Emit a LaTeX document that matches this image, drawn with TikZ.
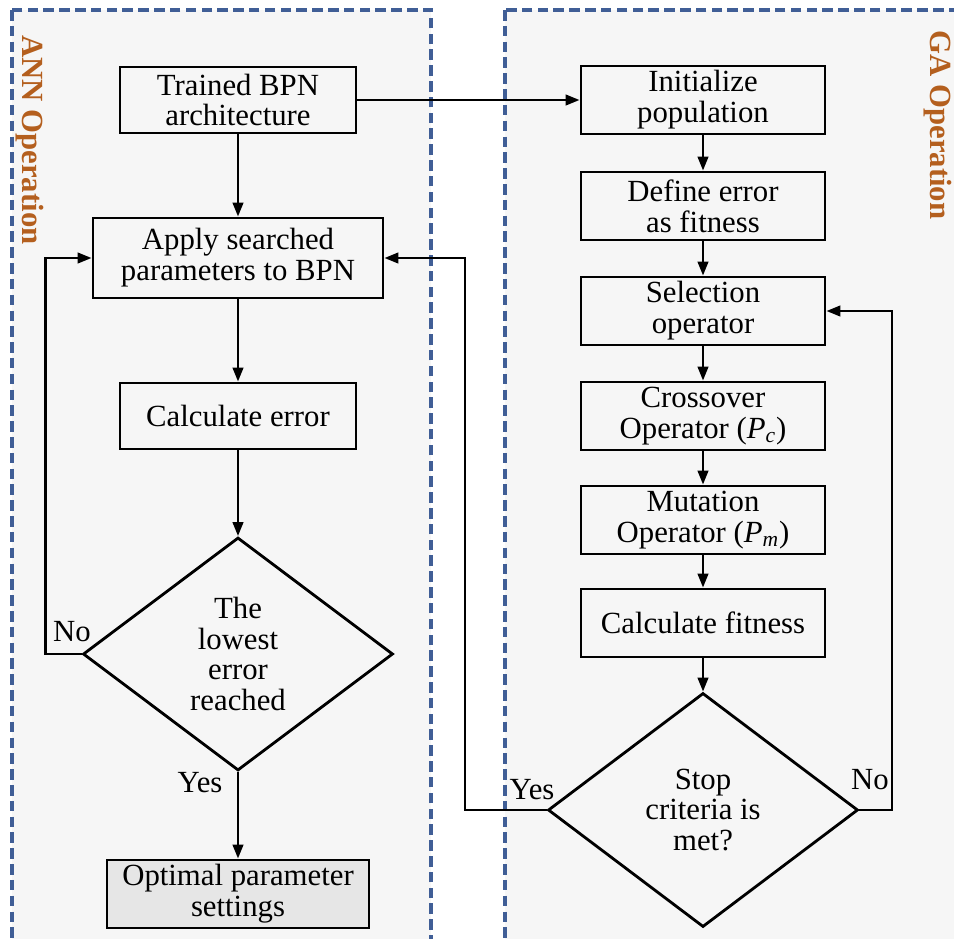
\documentclass[tikz,border=0pt]{standalone}
\usepackage{fontspec}
\setmainfont{Liberation Serif}
\usetikzlibrary{arrows.meta,shapes.geometric,positioning}
\definecolor{panelblue}{RGB}{64,94,150}
\definecolor{panelfill}{RGB}{246,246,246}
\definecolor{tagbrown}{RGB}{180,95,30}
\definecolor{boxgray}{RGB}{230,230,230}

\begin{document}
\begin{tikzpicture}[>={Triangle[length=8pt,width=6pt]},
  font=\fontsize{17.5}{17.6}\selectfont,
  panel/.style={draw=panelblue,line width=2.2pt,dash pattern=on 6pt off 3pt,fill=panelfill},
  stepbox/.style={draw,line width=1.6pt,align=center,inner sep=2pt,minimum height=1.32cm},
  decide/.style={draw,diamond,line width=1.6pt,align=center,inner sep=0pt,minimum width=6.2cm,minimum height=4.66cm},
  flow/.style={->,line width=1.5pt},
  tag/.style={font=\fontsize{17.5}{17.6}\selectfont\bfseries,text=tagbrown,rotate=-90}]
  \clip (0,0) rectangle (19.08,-18.76);
  % the two panels
  \draw[panel] (0.24,-0.2) rectangle (8.62,-19.6);
  \draw[panel] (10.1,-0.2) rectangle (19.6,-19.6);
  \node[tag] (anntag) at (0.6,-2.8) {ANN Operation};
  \node[tag] (gatag) at (18.76,-2.5) {GA Operation};
  % ANN side
  \node[stepbox,minimum width=4.72cm] (trained) at (4.76,-2.0) {Trained BPN\\architecture};
  \node[stepbox,minimum width=5.8cm,minimum height=1.6cm] (apply) at (4.76,-5.16) {Apply searched\\parameters to BPN};
  \node[stepbox,minimum width=4.72cm] (calcerr) at (4.76,-8.32) {Calculate error};
  \node[decide] (lowest) at (4.76,-13.08) {The\\lowest\\error\\reached};
  \node[stepbox,fill=boxgray,minimum width=5.24cm,minimum height=1.36cm] (optimal) at (4.76,-17.88) {Optimal parameter\\settings};
  % GA side
  \foreach \y/\name/\txt in {-2.0/init/{Initialize\\population},
                             -4.12/define/{Define error\\as fitness},
                             -6.22/select/{Selection\\operator},
                             -8.32/cross/{Crossover\\Operator (\textit{P}\textsubscript{\textit{c}})},
                             -10.4/mutate/{Mutation\\Operator (\textit{P}\textsubscript{\textit{m}})},
                             -12.46/calcfit/{Calculate fitness}}
    {\node[stepbox,minimum width=4.88cm,minimum height=1.36cm] (\name) at (14.06,\y) {\txt};}
  \node[decide,minimum height=4.68cm] (stop) at (14.06,-16.2) {Stop\\criteria is\\met?};
  % connectors
  \draw[flow] (trained) -- (apply);
  \draw[flow] (apply) -- (calcerr);
  \draw[flow] (calcerr) -- (lowest);
  \draw[flow] (lowest) -- (optimal);
  \draw[flow] (trained) -- (init);
  \foreach \a/\b in {init/define,define/select,select/cross,cross/mutate,mutate/calcfit,calcfit/stop}
    {\draw[flow] (\a) -- (\b);}
  \draw[flow] (lowest.west) -- ++(-0.72,0) |- (apply.west);
  \draw[flow] (stop.west) -- (9.3,-16.2) |- (apply.east);
  \draw[flow] (stop.east) -- (17.84,-16.2) |- (select.east);
  % branch labels
  \node (annno) at (1.44,-12.64) {No};
  \node (annyes) at (4.0,-15.66) {Yes};
  \node (gayes) at (10.64,-15.8) {Yes};
  \node (gano) at (17.4,-15.6) {No};
\end{tikzpicture}
\end{document}
